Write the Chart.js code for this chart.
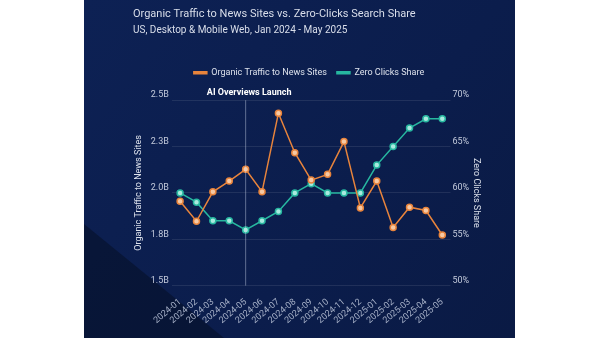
<!DOCTYPE html>
<html>
<head>
<meta charset="utf-8">
<script src="https://cdn.jsdelivr.net/npm/chart.js@4.4.0/dist/chart.umd.min.js"></script>
<style>
  html, body { margin: 0; padding: 0; background: #ffffff; }
  #wrap { position: absolute; left: 84px; top: 0; width: 431px; height: 338px; }
</style>
</head>
<body>
<div id="wrap"><canvas id="trafficChart" width="431" height="338"></canvas></div>
<script>
// Data
const months = ['2024-01', '2024-02', '2024-03', '2024-04', '2024-05', '2024-06', '2024-07', '2024-08',
    '2024-09', '2024-10', '2024-11', '2024-12', '2025-01', '2025-02', '2025-03', '2025-04', '2025-05'];
const organicTraffic = [1.955, 1.847, 2.006, 2.064, 2.127, 2.006, 2.43, 2.217,
    2.069, 2.1, 2.277, 1.919, 2.064, 1.814, 1.923, 1.905, 1.773];
const zeroClicks = [60, 59, 57, 57, 56, 57, 58, 60, 61, 60, 60, 60, 63, 65, 67, 68, 68];
const trafficTicks = [1.5, 1.75, 2.0, 2.25, 2.5];
const shareTicks = [50, 55, 60, 65, 70];
const launchMonth = '2024-05';
const launchLabel = 'AI Overviews Launch';

const fontFamily = 'Roboto, "Noto Sans", sans-serif';

// Panel background with darker corner
const backgroundPlugin = {
    id: 'panelBackground',
    beforeDraw(chart) {
        const { ctx, width, height } = chart;
        ctx.save();
        const grad = ctx.createLinearGradient(0, 0, width, height);
        grad.addColorStop(0, '#0d2154');
        grad.addColorStop(0.6, '#0b1d4c');
        grad.addColorStop(1, '#0a1a44');
        ctx.fillStyle = grad;
        ctx.fillRect(0, 0, width, height);
        ctx.beginPath();
        ctx.moveTo(0, 224);
        ctx.lineTo(140, height);
        ctx.lineTo(0, height);
        ctx.closePath();
        ctx.fillStyle = 'rgba(5, 14, 36, 0.55)';
        ctx.fill();
        ctx.restore();
    }
};

// Extra room under the legend for the launch label
const legendSpacing = {
    id: 'legendSpacing',
    beforeInit(chart) {
        const origFit = chart.legend.fit;
        chart.legend.fit = function fit() {
            origFit.bind(chart.legend)();
            this.height += 13;
        };
    }
};

// Vertical marker for the launch month
const launchPlugin = {
    id: 'launchLine',
    afterDatasetsDraw(chart) {
        const { ctx, chartArea } = chart;
        const x = chart.scales.x.getPixelForValue(months.indexOf(launchMonth));
        ctx.save();
        ctx.strokeStyle = 'rgba(200, 210, 230, 0.45)';
        ctx.lineWidth = 1;
        ctx.beginPath();
        ctx.moveTo(x, chartArea.top);
        ctx.lineTo(x, chartArea.bottom);
        ctx.stroke();
        ctx.fillStyle = '#ffffff';
        ctx.font = 'bold 9px ' + fontFamily;
        ctx.textAlign = 'center';
        ctx.textBaseline = 'middle';
        ctx.fillText(launchLabel, x + 3.5, chartArea.top - 7.5);
        ctx.restore();
    }
};

const ctx = document.getElementById('trafficChart');
new Chart(ctx, {
    type: 'line',
    data: {
        labels: months,
        datasets: [{
            label: 'Organic Traffic to News Sites',
            data: organicTraffic,
            yAxisID: 'y',
            borderColor: '#e8843c',
            backgroundColor: '#e8843c',
            borderWidth: 1.5,
            pointRadius: 3,
            pointBorderWidth: 1.5,
            pointBackgroundColor: '#f6c9a4',
            pointBorderColor: '#e8843c',
            tension: 0
        }, {
            label: 'Zero Clicks Share',
            data: zeroClicks,
            yAxisID: 'y1',
            borderColor: '#27b7a0',
            backgroundColor: '#27b7a0',
            borderWidth: 1.5,
            pointRadius: 3,
            pointBorderWidth: 1.5,
            pointBackgroundColor: '#a9eadf',
            pointBorderColor: '#27b7a0',
            tension: 0
        }]
    },
    options: {
        responsive: false,
        animation: false,
        layout: { padding: { top: 8, left: 49, right: 30, bottom: 9 } },
        plugins: {
            title: {
                display: true,
                text: 'Organic Traffic to News Sites vs. Zero-Clicks Search Share',
                align: 'start',
                color: '#d9deea',
                font: { family: fontFamily, size: 11, weight: 'normal' },
                padding: { top: 0, bottom: 3 }
            },
            subtitle: {
                display: true,
                text: 'US, Desktop & Mobile Web, Jan 2024 - May 2025',
                align: 'start',
                color: '#d9deea',
                font: { family: fontFamily, size: 10 },
                padding: { top: 0, bottom: 22 }
            },
            legend: {
                labels: {
                    color: '#dde2ec',
                    font: { family: fontFamily, size: 9 },
                    boxWidth: 13,
                    boxHeight: 2,
                    padding: 10
                }
            },
            tooltip: { enabled: false }
        },
        scales: {
            x: {
                offset: true,
                grid: { display: false },
                border: { display: false },
                ticks: {
                    color: '#a7b1c8',
                    font: { family: fontFamily, size: 9 },
                    maxRotation: 40,
                    minRotation: 40,
                    autoSkip: false
                }
            },
            y: {
                position: 'left',
                min: trafficTicks[0],
                max: trafficTicks[trafficTicks.length - 1],
                afterBuildTicks: (axis) => { axis.ticks = trafficTicks.map(v => ({ value: v })); },
                grid: { color: 'rgba(255, 255, 255, 0.09)', drawTicks: false },
                border: { display: false },
                ticks: {
                    color: '#c3cadb',
                    font: { family: fontFamily, size: 9 },
                    padding: 3,
                    labelOffset: -5,
                    callback: (v) => v.toFixed(1) + 'B'
                },
                title: {
                    display: true,
                    text: 'Organic Traffic to News Sites',
                    color: '#dde2ec',
                    font: { family: fontFamily, size: 9 },
                    padding: { top: 0, bottom: 4 }
                }
            },
            y1: {
                position: 'right',
                min: shareTicks[0],
                max: shareTicks[shareTicks.length - 1],
                afterBuildTicks: (axis) => { axis.ticks = shareTicks.map(v => ({ value: v })); },
                grid: { drawOnChartArea: false, drawTicks: false },
                border: { display: false },
                ticks: {
                    color: '#c3cadb',
                    font: { family: fontFamily, size: 9 },
                    padding: 2,
                    labelOffset: -5,
                    callback: (v) => v + '%'
                },
                title: {
                    display: true,
                    text: 'Zero Clicks Share',
                    color: '#dde2ec',
                    font: { family: fontFamily, size: 9 },
                    padding: { top: 3, bottom: 0 }
                }
            }
        }
    },
    plugins: [backgroundPlugin, legendSpacing, launchPlugin]
});
</script>
</body>
</html>
